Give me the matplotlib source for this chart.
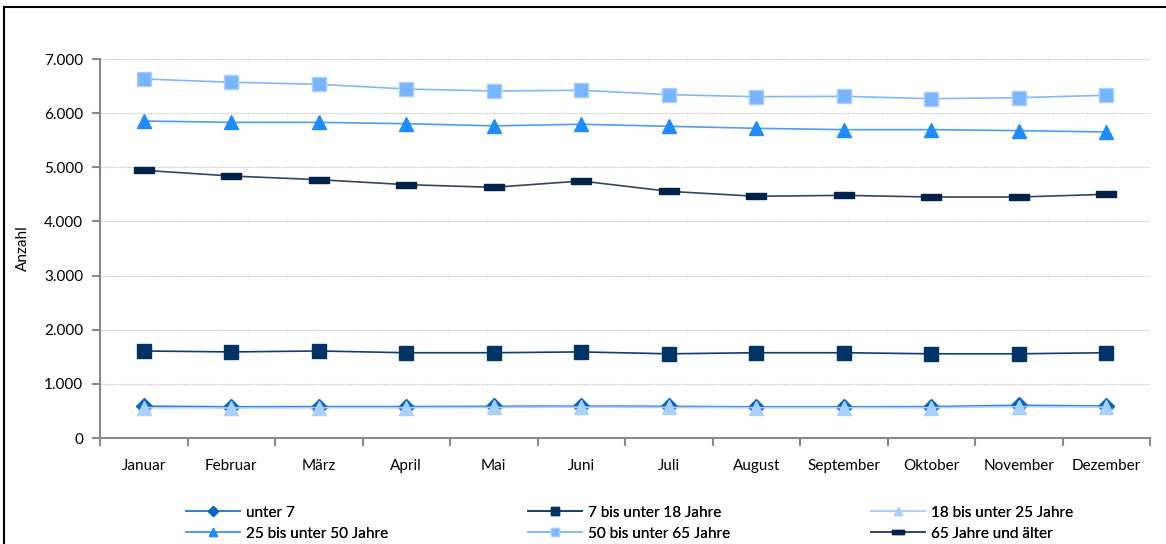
import matplotlib
matplotlib.use("Agg")
import matplotlib.pyplot as plt
from matplotlib.patches import Rectangle
from matplotlib.ticker import FuncFormatter, FixedLocator

plt.rcParams['font.family'] = ['Lato', 'DejaVu Sans']

monate = ["Januar", "Februar", "März", "April", "Mai", "Juni", "Juli",
          "August", "September", "Oktober", "November", "Dezember"]

unter_7 = [590, 575, 580, 580, 585, 590, 585, 575, 575, 580, 605, 590]
bis_18 = [1607, 1590, 1607, 1575, 1575, 1590, 1555, 1575, 1575, 1555, 1555, 1575]
bis_25 = [560, 555, 560, 560, 565, 570, 565, 560, 560, 560, 580, 570]
bis_50 = [5855, 5830, 5830, 5805, 5765, 5795, 5757, 5720, 5695, 5695, 5677, 5652]
bis_65 = [6631, 6570, 6533, 6446, 6409, 6422, 6341, 6304, 6311, 6267, 6286, 6330]
ab_65 = [4944, 4839, 4771, 4679, 4630, 4747, 4556, 4464, 4482, 4451, 4451, 4501]

labels = ["unter 7", "7 bis unter 18 Jahre", "18 bis unter 25 Jahre",
          "25 bis unter 50 Jahre", "50 bis unter 65 Jahre", "65 Jahre und älter"]

dash = [(-1, -0.36), (1, -0.36), (1, 0.36), (-1, 0.36), (-1, -0.36)]

fig = plt.figure(figsize=(11.66, 5.44), dpi=100)
ax = fig.add_axes([100 / 1166, 1 - 438 / 544, 1050 / 1166, 379 / 544])

x = list(range(len(monate)))
l1, = ax.plot(x, unter_7, color="#2A7FE0", lw=1.2, marker="D", ms=8.5,
              mfc="#0A64C8", mec="#0A64C8", label=labels[0])
l2, = ax.plot(x, bis_18, color="#0E3D75", lw=1.2, marker="s", ms=10,
              mfc="#003366", mec="#003366", label=labels[1])
l3, = ax.plot(x, bis_25, color="#A9D1FF", lw=1.2, marker="^", ms=9.5,
              mfc="#A9D1FF", mec="#A9D1FF", label=labels[2])
l4, = ax.plot(x, bis_50, color="#4C9EF5", lw=1.2, marker="^", ms=10,
              mfc="#1E8CFF", mec="#1E8CFF", label=labels[3])
l5, = ax.plot(x, bis_65, color="#7FB8FF", lw=1.2, marker="s", ms=10.5,
              mfc="#78B4FF", mec="#A8D0FF", label=labels[4])
l6, = ax.plot(x, ab_65, color="#34445E", lw=1.2, marker=dash, ms=14,
              mfc="#00214A", mec="#00214A", label=labels[5])

ax.set_xlim(-0.5, len(monate) - 0.5)
ax.set_ylim(0, 7000)
ax.set_yticks(range(0, 7001, 1000))
ax.yaxis.set_major_formatter(FuncFormatter(lambda v, p: f"{int(v):,}".replace(",", ".")))
ax.grid(axis="y", color="#C8C8C8", linestyle=(0, (1.5, 1)), lw=0.8)
ax.set_axisbelow(True)

ax.xaxis.set_major_locator(FixedLocator([i - 0.5 for i in range(len(monate) + 1)]))
ax.xaxis.set_major_formatter(FuncFormatter(lambda v, p: ""))
ax.xaxis.set_minor_locator(FixedLocator(x))
ax.set_xticklabels(monate, minor=True)
ax.tick_params(axis="x", which="minor", length=0, pad=15, labelsize=11)
ax.tick_params(axis="x", which="major", length=6, color="#888888", width=1.5)
ax.tick_params(axis="y", length=6, color="#888888", width=1.5, labelsize=11, pad=6)

for s in ["top", "right"]:
    ax.spines[s].set_visible(False)
for s in ["left", "bottom"]:
    ax.spines[s].set_color("#888888")
    ax.spines[s].set_linewidth(1.5)

ax.set_ylabel("Anzahl", fontsize=11, labelpad=10)

# drei Legenden-Spalten, jeweils zwei Zeilen
spalten = [(l1, l4), (l2, l5), (l3, l6)]
x_pos = [180, 522, 865]
for (a, b), xp in zip(spalten, x_pos):
    leg = fig.legend([a, b], [a.get_label(), b.get_label()], ncol=1, frameon=False,
                     loc="lower left", bbox_to_anchor=(xp / 1166, -0.005), fontsize=11,
                     handlelength=3.5, handletextpad=0.4, labelspacing=0.45,
                     markerscale=0.6, borderaxespad=0)
    fig.add_artist(leg)

fig.add_artist(Rectangle((4 / 1166, -0.1), 1.2, 1 - 7 / 544 + 0.1,
                         transform=fig.transFigure, fill=False,
                         edgecolor="black", lw=1.5))

fig.savefig("out.png", dpi=100)
